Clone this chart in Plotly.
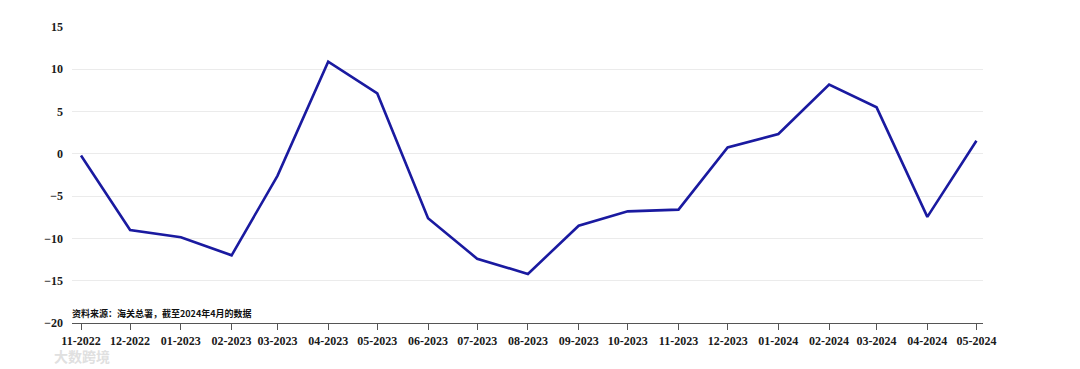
import plotly.graph_objects as go

months = ["2022-11-01", "2022-12-01", "2023-01-01", "2023-02-01", "2023-03-01",
          "2023-04-01", "2023-05-01", "2023-06-01", "2023-07-01", "2023-08-01",
          "2023-09-01", "2023-10-01", "2023-11-01", "2023-12-01", "2024-01-01",
          "2024-02-01", "2024-03-01", "2024-04-01", "2024-05-01"]
values = [-0.2, -9.0, -9.85, -12.0, -2.6, 10.9, 7.15, -7.6, -12.4, -14.2,
          -8.5, -6.8, -6.6, 0.75, 2.35, 8.2, 5.5, -7.45, 1.55]
y_ticks = [-20, -15, -10, -5, 0, 5, 10, 15]
source_note = "资料来源：海关总署，截至2024年4月的数据"
watermark = "大数跨境"

tick_font = dict(family="Liberation Serif", size=12, color="#1a1a1a", weight="bold")

fig = go.Figure()
fig.add_trace(go.Scatter(
    x=months, y=values, mode="lines",
    line=dict(color="#1a1aa0", width=2.6),
    hoverinfo="x+y", showlegend=False,
))

fig.update_layout(
    width=1072, height=361,
    margin=dict(l=64, r=97, t=19, b=46),
    paper_bgcolor="white", plot_bgcolor="white",
    xaxis=dict(
        type="date",
        range=["2022-10-26 12:00", "2024-05-05"],
        tickvals=months,
        tickformat="%m-%Y",
        tickfont=tick_font,
        showgrid=False,
        showline=True, linecolor="#555555", linewidth=1.2,
        ticks="outside", ticklen=6, tickcolor="#555555", tickwidth=1,
        zeroline=False,
    ),
    yaxis=dict(
        range=[-20, 15],
        tickvals=y_ticks,
        tickfont=tick_font,
        showgrid=True, gridcolor="#ebebeb", gridwidth=1,
        zeroline=False, showline=False,
        ticks="", ticklabelstandoff=8,
    ),
    annotations=[
        dict(text=source_note, xref="paper", yref="paper", x=0.0, y=0.0,
             xanchor="left", yanchor="bottom", showarrow=False, xshift=-2, yshift=1,
             font=dict(family="Noto Sans CJK SC", size=9, color="#111111", weight="bold")),
        dict(text=watermark, xref="paper", yref="paper", x=-0.022, y=-0.152,
             xanchor="left", yanchor="bottom", showarrow=False,
             font=dict(family="Noto Sans CJK SC", size=14, color="#e0e0e0", weight="bold")),
    ],
)

fig.write_html("out.html")
